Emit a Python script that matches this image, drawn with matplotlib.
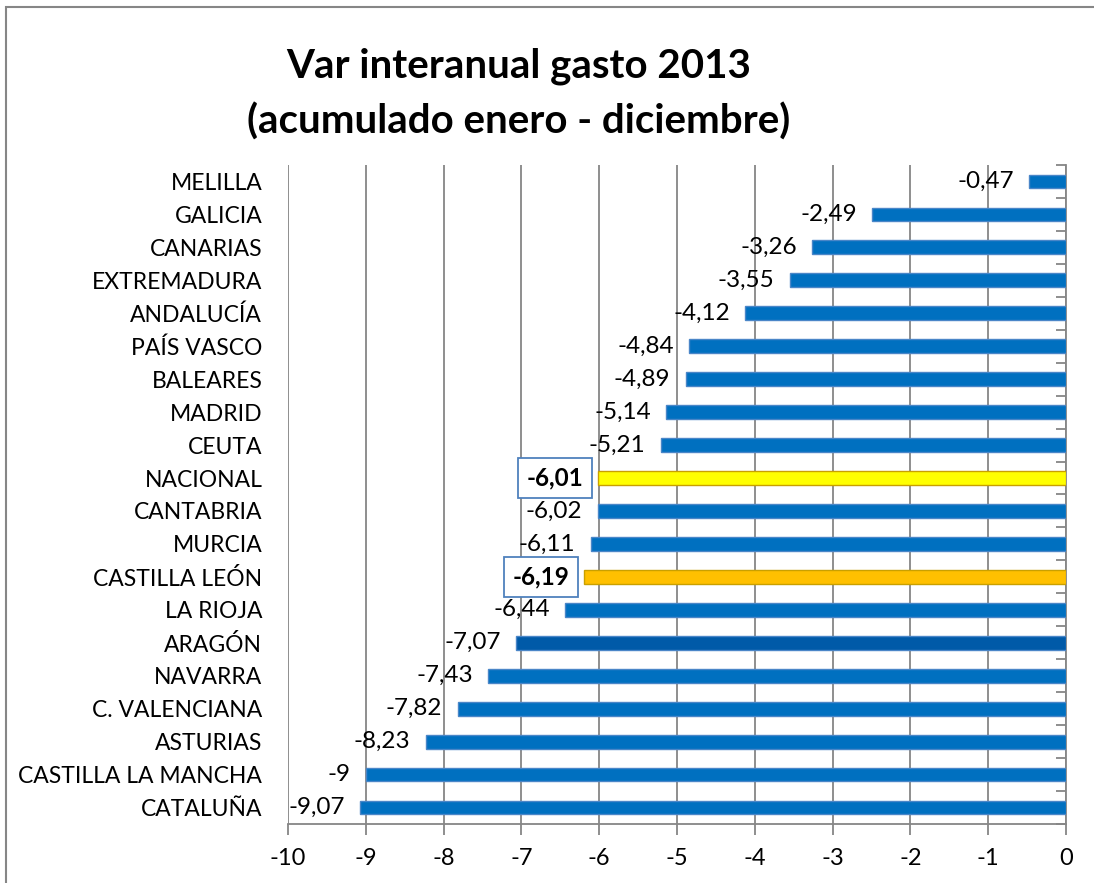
import matplotlib
matplotlib.use("Agg")
import matplotlib.pyplot as plt
from matplotlib.patches import Rectangle

plt.rcParams['font.family'] = ['Lato', 'DejaVu Sans']

categories = ["MELILLA", "GALICIA", "CANARIAS", "EXTREMADURA", "ANDALUCÍA",
              "PAÍS VASCO", "BALEARES", "MADRID", "CEUTA", "NACIONAL",
              "CANTABRIA", "MURCIA", "CASTILLA LEÓN", "LA RIOJA", "ARAGÓN",
              "NAVARRA", "C. VALENCIANA", "ASTURIAS", "CASTILLA LA MANCHA", "CATALUÑA"]
values = [-0.47, -2.49, -3.26, -3.55, -4.12, -4.84, -4.89, -5.14, -5.21, -6.01,
          -6.02, -6.11, -6.19, -6.44, -7.07, -7.43, -7.82, -8.23, -9.00, -9.07]
highlight = {"NACIONAL": "#FFFF00", "CASTILLA LEÓN": "#FFC000", "ARAGÓN": "#005AA8"}
xticks = list(range(-10, 1))
title = "Var interanual gasto 2013\n(acumulado enero - diciembre)"

base_color = "#0070C0"
colors = [highlight.get(c, base_color) for c in categories]
edges = ["#C9A000" if c in ("NACIONAL", "CASTILLA LEÓN") else "#4A86C8" for c in categories]

fig = plt.figure(figsize=(10.94, 8.83), dpi=100)
ax = fig.add_axes([288/1094, 1-824/883, (1066-288)/1094, (824-165)/883])

ypos = list(range(len(categories)))
bars = ax.barh(ypos, values, height=0.42, color=colors, edgecolor=edges, linewidth=1.0, zorder=3)
ax.set_ylim(len(categories)-0.5, -0.5)
ax.set_xlim(-10, 0)

labels = [f"{v:g}".replace('.', ',') for v in values]
texts = ax.bar_label(bars, labels=labels, padding=11, fontsize=17.5, color="black")
for t, c in zip(texts, categories):
    if c in ("NACIONAL", "CASTILLA LEÓN"):
        t.set_fontweight('bold')
        t.set_bbox(dict(boxstyle="square,pad=0.35", facecolor="white", edgecolor="#4F81BD", linewidth=1.3))
    t.set_zorder(5)

ax.set_yticks(ypos)
ax.set_yticklabels(categories, fontsize=16.5)
ax.set_yticks([y - 0.5 for y in ypos] + [len(categories) - 0.5], minor=True)
ax.tick_params(axis='y', which='major', left=False, right=False, labelleft=True, pad=15)
ax.tick_params(axis='y', which='minor', left=False, right=True, direction='in', length=7, color="#868686", width=1.3)

ax.set_xticks(xticks)
ax.set_xticklabels([str(x) for x in xticks], fontsize=17)
ax.tick_params(axis='x', which='major', direction='out', length=8, color="#868686", width=1.3, pad=9)

ax.grid(axis='x', color="#868686", linewidth=1.3, zorder=0)
ax.set_axisbelow(True)
for s in ("top", "left"):
    ax.spines[s].set_visible(False)
for s in ("bottom", "right"):
    ax.spines[s].set_color("#868686")
    ax.spines[s].set_linewidth(1.3)

fig.text(0.474, 1-94/883, title, ha='center', va='center', fontsize=29, fontweight='bold',
         linespacing=1.55)

fig.patches.append(Rectangle((6/1094, -0.05), 1.1, 1-7/883+0.05, transform=fig.transFigure,
                             fill=False, edgecolor="#868686", linewidth=1.5))

fig.savefig("out.png", dpi=100)
